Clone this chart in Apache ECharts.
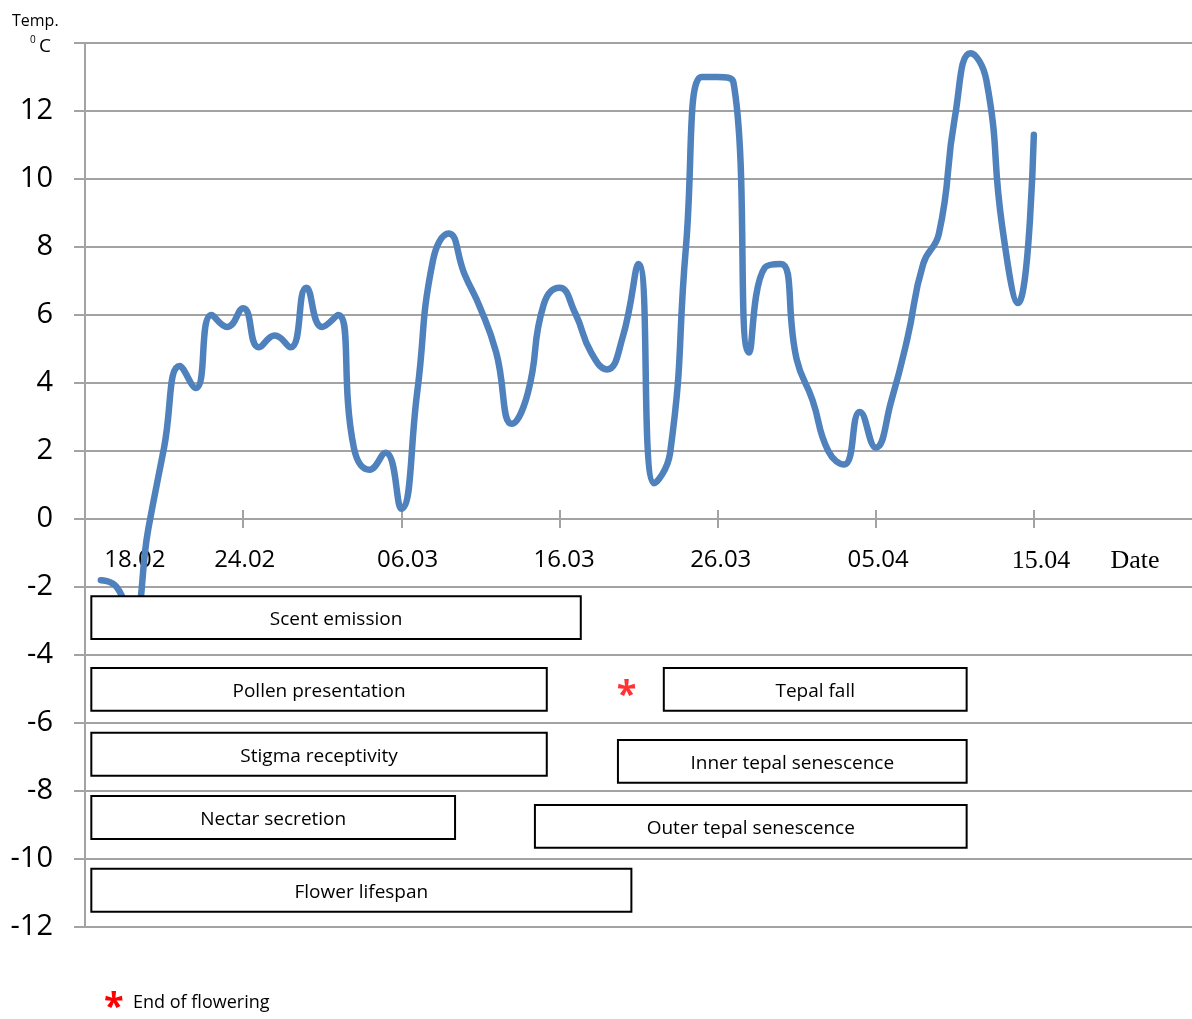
<!DOCTYPE html>
<html>
<head>
<meta charset="utf-8">
<script src="https://cdn.jsdelivr.net/npm/echarts@6/dist/echarts.min.js"></script>
<style>
html,body{margin:0;padding:0;background:#fff;}
#chart{width:1192px;height:1019px;}
</style>
</head>
<body>
<div id="chart"></div>
<script>
// ---- data ----
// daily mean temperature (°C), day 1 = 15.02 ... day 60 = 15.04 (day 0 = 14.02)
const temps = [
  -1.8, -2.0, -3.0, -0.3, 2.1, 4.5, 3.85, 6.0, 5.65, 6.2,
  5.05, 5.4, 5.05, 6.8, 5.65, 6.0, 2.1, 1.45, 1.95, 0.3,
  3.7, 7.6, 8.4, 7.2, 6.2, 4.9, 2.8, 3.7, 6.3, 6.8,
  6.05, 4.9, 4.4, 5.35, 7.5, 1.05, 1.95, 8.0, 13.0, 13.0,
  12.85, 4.9, 7.4, 7.5, 4.7, 3.5, 2.0, 1.6, 3.15, 2.1,
  3.5, 5.3, 7.5, 8.4, 11.8, 13.7, 12.9, 8.6, 6.35, 11.3
];
const dateLabels = ['18.02', '24.02', '06.03', '16.03', '26.03', '05.04', '15.04', 'Date'];
const tickDays = [10, 20, 30, 40, 50, 60];
const yTicks = [-12, -10, -8, -6, -4, -2, 0, 2, 4, 6, 8, 10, 12];

// phenological phases (start / end in days from 14.02)
const phaseNames = ['Scent emission', 'Pollen presentation', 'Stigma receptivity', 'Nectar secretion',
  'Flower lifespan', 'Tepal fall', 'Inner tepal senescence', 'Outer tepal senescence'];
const phaseStart = [0.4, 0.4, 0.4, 0.4, 0.4, 36.6, 33.7, 28.45];
const phaseEnd = [31.35, 29.2, 29.2, 23.4, 34.55, 55.75, 55.75, 55.75];
const endOfFlowering = [34.25];

// ---- layout (positions, not data) ----
const labelPos = [3.15, 10.1, 20.4, 30.3, 40.2, 50.15, 60.45, 66.4];
const serifLabels = ['15.04', 'Date'];
const phaseTop = [-2.27, -4.38, -6.29, -8.15, -10.29, -4.38, -6.5, -8.41];
const boxH = 1.26;
const asteriskY = -5.2;

const lineData = temps.map((v, i) => [i + 1, v]);
const boxData = phaseNames.map((n, i) => [phaseStart[i], phaseEnd[i], phaseTop[i], phaseTop[i] - boxH, i]);

const Y_MIN = -12, Y_MAX = 14;
const GRID_TOP = 43, GRID_BOTTOM = 92, H = 1019;
const plotH = H - GRID_TOP - GRID_BOTTOM;
const zeroOffset = -plotH * (0 - Y_MIN) / (Y_MAX - Y_MIN);

const chart = echarts.init(document.getElementById('chart'));
const gray = '#a3a3a3';
const sans = '"Open Sans", sans-serif';

chart.setOption({
  animation: false,
  backgroundColor: '#fff',
  grid: { left: 85, right: -2, top: GRID_TOP, bottom: GRID_BOTTOM, containLabel: false },
  xAxis: [{
    type: 'value', min: 0, max: 70, position: 'bottom', offset: zeroOffset,
    axisLine: { show: true, onZero: false, lineStyle: { color: gray, width: 2 } },
    axisTick: { show: true, customValues: tickDays, length: 9, lineStyle: { color: gray, width: 2 } },
    splitLine: { show: false },
    axisLabel: {
      customValues: labelPos, margin: 29, hideOverlap: false,
      formatter: function (v) {
        let idx = 0, best = 1e9;
        labelPos.forEach((p, i) => { if (Math.abs(p - v) < best) { best = Math.abs(p - v); idx = i; } });
        const t = dateLabels[idx];
        return serifLabels.indexOf(t) >= 0 ? '{r|' + t + '}' : '{s|' + t + '}';
      },
      rich: {
        s: { fontFamily: sans, fontSize: 24, color: '#000' },
        r: { fontFamily: '"Liberation Serif", serif', fontSize: 26, color: '#000' }
      }
    }
  }, {
    type: 'value', min: 0, max: 70, position: 'bottom', offset: zeroOffset,
    axisLine: { show: false, onZero: false },
    axisTick: { show: true, inside: true, customValues: tickDays, length: 9, lineStyle: { color: gray, width: 2 } },
    axisLabel: { show: false },
    splitLine: { show: false }
  }],
  yAxis: {
    type: 'value', min: Y_MIN, max: Y_MAX, interval: 2,
    axisLine: { show: true, onZero: false, lineStyle: { color: gray, width: 2 } },
    axisTick: { show: true, length: 11, lineStyle: { color: gray, width: 2 } },
    splitLine: { show: true, lineStyle: { color: gray, width: 2 } },
    axisLabel: {
      margin: 32, fontFamily: sans, fontSize: 29, color: '#000', padding: [12, 0, 0, 0],
      formatter: v => (yTicks.indexOf(v) >= 0 ? String(v) : '')
    }
  },
  series: [{
    type: 'line', xAxisIndex: 0, data: lineData, smooth: 0.5, showSymbol: false, z: 2,
    lineStyle: { color: '#4f81bd', width: 6.5, cap: 'round', join: 'round' }
  }, {
    type: 'custom', xAxisIndex: 0, z: 5, data: boxData,
    encode: { x: [0, 1], y: [2, 3] },
    renderItem: function (params, api) {
      const p1 = api.coord([api.value(0), api.value(2)]);
      const p2 = api.coord([api.value(1), api.value(3)]);
      const name = phaseNames[api.value(4)];
      return {
        type: 'group',
        children: [{
          type: 'rect',
          shape: { x: p1[0], y: p1[1], width: p2[0] - p1[0], height: p2[1] - p1[1] },
          style: { fill: '#fff', stroke: '#000', lineWidth: 2 }
        }, {
          type: 'text',
          style: {
            text: name, x: (p1[0] + p2[0]) / 2, y: (p1[1] + p2[1]) / 2 + 2,
            align: 'center', verticalAlign: 'middle',
            font: '19px ' + sans, fill: '#000'
          }
        }]
      };
    }
  }, {
    type: 'scatter', xAxisIndex: 0, z: 6,
    data: endOfFlowering.map(d => [d, asteriskY]),
    symbolSize: 0,
    label: {
      show: true, position: 'inside', formatter: '*',
      color: '#ff0000', fontSize: 36, fontWeight: 'bold', fontFamily: sans
    }
  }],
  graphic: [
    { type: 'text', left: 12, top: 13, style: { text: 'Temp.', font: '16px ' + sans, fill: '#000' } },
    { type: 'text', left: 30, top: 35, style: { text: '0', font: '10px ' + sans, fill: '#000' } },
    { type: 'text', left: 39, top: 37, style: { text: 'C', font: '19px ' + sans, fill: '#000' } },
    { type: 'text', left: 104, top: 990, style: { text: '*', font: 'bold 36px ' + sans, fill: '#ff0000' } },
    { type: 'text', left: 133, top: 994, style: { text: 'End of flowering', font: '18px ' + sans, fill: '#000' } }
  ]
});
</script>
</body>
</html>
